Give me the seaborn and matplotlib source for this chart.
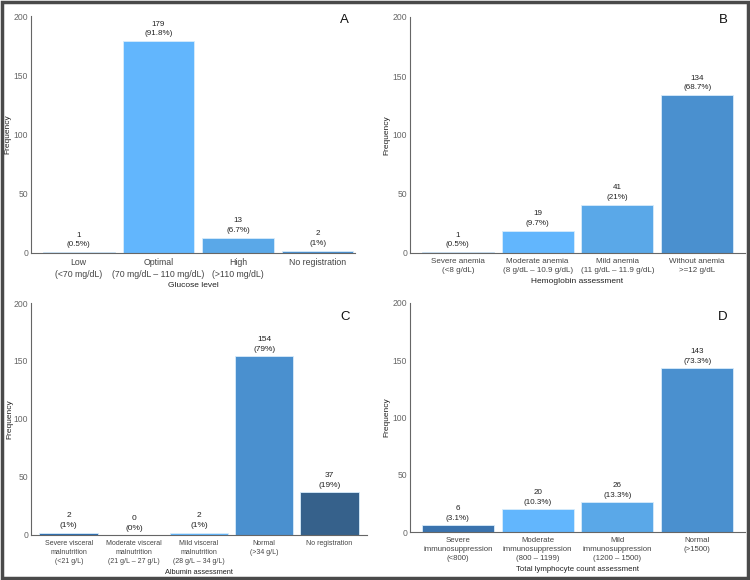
import matplotlib
matplotlib.use("Agg")
import matplotlib.pyplot as plt
import pandas as pd
import seaborn as sns

# Panel A - glucose
glucose_cats = ["Low\n(<70 mg/dL)", "Optimal\n(70 mg/dL \u2013 110 mg/dL)",
                "High\n(>110 mg/dL)", "No registration"]
glucose_n = [1, 179, 13, 2]
glucose_pct = ["0.5%", "91.8%", "6.7%", "1%"]
glucose_colors = ["#2f6fb1", "#62b6fd", "#5aa8e8", "#4a90cf"]

# Panel B - hemoglobin
hb_cats = ["Severe anemia\n(<8 g/dL)", "Moderate anemia\n(8 g/dL \u2013 10.9 g/dL)",
           "Mild anemia\n(11 g/dL \u2013 11.9 g/dL)", "Without anemia\n>=12 g/dL"]
hb_n = [1, 19, 41, 134]
hb_pct = ["0.5%", "9.7%", "21%", "68.7%"]
hb_colors = ["#1f4e8c", "#62b6fd", "#5aa8e8", "#4a90cf"]

# Panel C - albumin
alb_cats = ["Severe visceral\nmalnutrition\n(<21 g/L)",
            "Moderate visceral\nmalnutrition\n(21 g/L \u2013 27 g/L)",
            "Mild visceral\nmalnutrition\n(28 g/L \u2013 34 g/L)",
            "Normal\n(>34 g/L)", "No registration"]
alb_n = [2, 0, 2, 154, 37]
alb_pct = ["1%", "0%", "1%", "79%", "19%"]
alb_colors = ["#2f6fb1", "#62b6fd", "#62b6fd", "#4a90cf", "#36618b"]

# Panel D - lymphocytes
lym_cats = ["Severe\nimmunosuppression\n(<800)",
            "Moderate\nimmunosuppression\n(800 \u2013 1199)",
            "Mild\nimmunosuppression\n(1200 \u2013 1500)",
            "Normal\n(>1500)"]
lym_n = [6, 20, 26, 143]
lym_pct = ["3.1%", "10.3%", "13.3%", "73.3%"]
lym_colors = ["#3a73ae", "#62b6fd", "#5aa8e8", "#4a90cf"]

sns.set_theme(style="white")
plt.rcParams["font.family"] = ["Liberation Sans", "DejaVu Sans"]

W, H = 750, 580
fig = plt.figure(figsize=(7.5, 5.8), dpi=100)


def add_ax(left, top, right, bottom):
    return fig.add_axes([left / W, 1 - bottom / H, (right - left) / W, (bottom - top) / H])


# (cats, counts, pct, colours, xlabel, letter, letter px, ylabel x px,
#  box px, xlim, tick font, annot font, xlabel font)
panels = [
    (glucose_cats, glucose_n, glucose_pct, glucose_colors, "Glucose level", "A",
     (344, 20), 8, (31, 16, 355, 253), (-0.6, 3.47), 6.3, 5.8, 6.0),
    (hb_cats, hb_n, hb_pct, hb_colors, "Hemoglobin assessment", "B",
     (723, 20), 387, (410, 17, 745, 253), (-0.6, 3.6), 5.8, 5.8, 6.0),
    (alb_cats, alb_n, alb_pct, alb_colors, "Albumin assessment", "C",
     (345, 317), 10, (31, 303, 367, 535), (-0.58, 4.58), 5.0, 6.0, 5.3),
    (lym_cats, lym_n, lym_pct, lym_colors, "Total lymphocyte count assessment", "D",
     (723, 317), 387, (410, 303, 745, 532), (-0.6, 3.6), 5.6, 5.8, 5.6),
]

for (cats, n, pct, colors, xlab, letter, lpos, ylx, box, xlim,
     tfs, afs, lfs) in panels:
    ax = add_ax(*box)
    df = pd.DataFrame({"cat": cats, "n": n})
    sns.barplot(data=df, x="cat", y="n", hue="cat", palette=colors, legend=False,
                width=0.9, edgecolor="#d8ecfb", linewidth=0.6, saturation=1, ax=ax)
    for i, (v, p) in enumerate(zip(n, pct)):
        ax.annotate(f"{v}\n({p})", (i, v), xytext=(0, 2.5), textcoords="offset points",
                    ha="center", va="bottom", fontsize=afs, color="#222222",
                    linespacing=1.55)
    ax.set_ylim(0, 200)
    ax.set_yticks([0, 50, 100, 150, 200])
    ax.set_xlim(*xlim)
    ax.set_ylabel("Frequency", fontsize=6.0, color="#222222")
    ax.yaxis.label.set_va("center")
    ax.yaxis.set_label_coords((ylx - box[0]) / (box[2] - box[0]), 0.5)
    ax.set_xlabel(xlab, fontsize=lfs, color="#222222", labelpad=2.5)
    ax.tick_params(axis="x", labelsize=tfs, colors="#666666", length=2, width=0.6,
                   pad=1.5, labelcolor="#444444")
    ax.tick_params(axis="y", labelsize=6.2, colors="#666666", length=1.5, width=0.6,
                   pad=0.5)
    for s in ["top", "right"]:
        ax.spines[s].set_visible(False)
    for s in ["left", "bottom"]:
        ax.spines[s].set_color("#666666")
        ax.spines[s].set_linewidth(0.8)
    for t in ax.get_xticklabels():
        t.set_linespacing(1.45)
    fig.text(lpos[0] / W, 1 - lpos[1] / H, letter, ha="center", va="center",
             fontsize=9.5, color="#111111")

fig.patches.append(plt.Rectangle((0.002, 0.003), 0.995, 0.994, transform=fig.transFigure,
                                 fill=False, edgecolor="#4a4a4a", linewidth=2.5))

fig.savefig("out.png", dpi=100)
